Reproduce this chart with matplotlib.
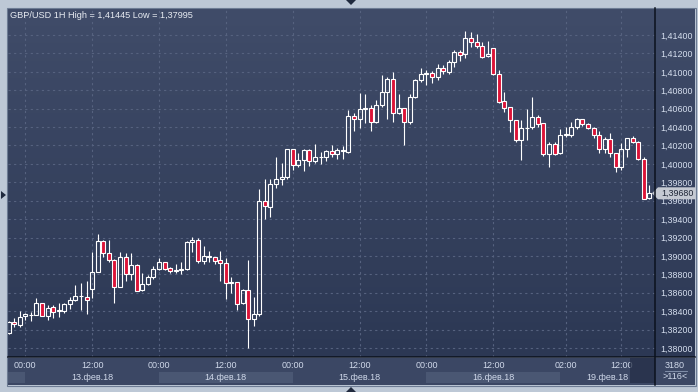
import numpy as np
import matplotlib
matplotlib.use("Agg")
import matplotlib.pyplot as plt
from matplotlib.patches import Rectangle, Polygon
from matplotlib.lines import Line2D
from matplotlib.colors import LinearSegmentedColormap

plt.rcParams['font.family'] = ['Liberation Sans', 'DejaVu Sans']

# GBP/USD 1H candles (116 bars)
opens = [1.38160, 1.38279, 1.38250, 1.38344, 1.38355, 1.38362, 1.38485, 1.38351, 1.38442, 1.38402,
         1.38405, 1.38475, 1.38518, 1.38560, 1.38551, 1.38638, 1.38829, 1.39159, 1.39029, 1.38953,
         1.38666, 1.38992, 1.38800, 1.38898, 1.38633, 1.38692, 1.38768, 1.38855, 1.38931, 1.38866,
         1.38836, 1.38847, 1.38855, 1.39148, 1.39170, 1.38942, 1.38992, 1.38985, 1.38953, 1.38920,
         1.38706, 1.38714, 1.38485, 1.38627, 1.38318, 1.38366, 1.39594, 1.39535, 1.39778, 1.39832,
         1.39854, 1.40158, 1.39985, 1.40039, 1.40148, 1.40028, 1.40071, 1.40078, 1.40137, 1.40104,
         1.40143, 1.40132, 1.40520, 1.40484, 1.40593, 1.40604, 1.40452, 1.40636, 1.40784, 1.40922,
         1.40549, 1.40604, 1.40452, 1.40723, 1.40911, 1.40976, 1.40984, 1.40941, 1.41038, 1.41001,
         1.41103, 1.41219, 1.41190, 1.41364, 1.41321, 1.41281, 1.41172, 1.41256, 1.40973, 1.40683,
         1.40615, 1.40477, 1.40259, 1.40387, 1.40397, 1.40512, 1.40441, 1.40104, 1.40213, 1.40115,
         1.40314, 1.40314, 1.40397, 1.40484, 1.40430, 1.40393, 1.40314, 1.40158, 1.40267, 1.40115,
         1.39969, 1.40158, 1.40278, 1.40241, 1.40050, 1.39633]
highs = [1.38293, 1.38323, 1.38402, 1.38383, 1.38391, 1.38543, 1.38490, 1.38467, 1.38467, 1.38485,
         1.38492, 1.38551, 1.38684, 1.38706, 1.38728, 1.39046, 1.39238, 1.39173, 1.39173, 1.38963,
         1.39043, 1.39032, 1.39032, 1.38909, 1.38811, 1.38790, 1.38894, 1.38974, 1.38937, 1.38877,
         1.38909, 1.38934, 1.39159, 1.39209, 1.39192, 1.39108, 1.39050, 1.38990, 1.39050, 1.38974,
         1.38774, 1.38720, 1.38638, 1.38956, 1.38551, 1.39727, 1.39832, 1.39832, 1.40071, 1.40006,
         1.40165, 1.40165, 1.40115, 1.40158, 1.40158, 1.40216, 1.40126, 1.40151, 1.40202, 1.40176,
         1.40194, 1.40582, 1.40549, 1.40767, 1.40756, 1.40640, 1.40691, 1.40966, 1.40941, 1.41001,
         1.40759, 1.40610, 1.40759, 1.40919, 1.41038, 1.41020, 1.41009, 1.41082, 1.41074, 1.41128,
         1.41237, 1.41237, 1.41445, 1.41436, 1.41411, 1.41327, 1.41335, 1.41262, 1.41020, 1.40781,
         1.40620, 1.40480, 1.40477, 1.40593, 1.40723, 1.40531, 1.40445, 1.40241, 1.40241, 1.40376,
         1.40397, 1.40458, 1.40495, 1.40490, 1.40441, 1.40404, 1.40357, 1.40295, 1.40339, 1.40120,
         1.40224, 1.40285, 1.40303, 1.40252, 1.40078, 1.39771]
lows = [1.38152, 1.38225, 1.38225, 1.38304, 1.38296, 1.38358, 1.38348, 1.38307, 1.38329, 1.38337,
        1.38377, 1.38420, 1.38514, 1.38413, 1.38373, 1.38546, 1.38822, 1.38985, 1.38937, 1.38492,
        1.38659, 1.38731, 1.38739, 1.38620, 1.38619, 1.38681, 1.38753, 1.38847, 1.38847, 1.38818,
        1.38818, 1.38804, 1.38847, 1.39043, 1.38920, 1.38916, 1.38931, 1.38916, 1.38728, 1.38535,
        1.38601, 1.38413, 1.38475, 1.37995, 1.38239, 1.38348, 1.39405, 1.39420, 1.39735, 1.39771,
        1.39839, 1.39934, 1.39969, 1.39926, 1.39977, 1.40013, 1.39995, 1.40034, 1.40078, 1.40053,
        1.40056, 1.40115, 1.40360, 1.40390, 1.40447, 1.40360, 1.40441, 1.40615, 1.40488, 1.40458,
        1.40542, 1.40205, 1.40430, 1.40712, 1.40886, 1.40857, 1.40882, 1.40911, 1.40973, 1.40973,
        1.41056, 1.41121, 1.41147, 1.41273, 1.41256, 1.41147, 1.41164, 1.40962, 1.40658, 1.40567,
        1.40350, 1.40241, 1.40042, 1.40259, 1.40376, 1.40404, 1.40086, 1.39963, 1.40097, 1.40104,
        1.40295, 1.40295, 1.40376, 1.40411, 1.40380, 1.40278, 1.40115, 1.40115, 1.40071, 1.39915,
        1.39934, 1.40071, 1.40224, 1.40042, 1.39615, 1.39615]
closes = [1.38279, 1.38257, 1.38333, 1.38373, 1.38362, 1.38485, 1.38351, 1.38431, 1.38388, 1.38413,
          1.38475, 1.38518, 1.38562, 1.38564, 1.38525, 1.38829, 1.39159, 1.39029, 1.38953, 1.38659,
          1.38992, 1.38800, 1.38898, 1.38622, 1.38692, 1.38768, 1.38855, 1.38931, 1.38855, 1.38833,
          1.38844, 1.38855, 1.39148, 1.39170, 1.38942, 1.38996, 1.38996, 1.38948, 1.38920, 1.38703,
          1.38714, 1.38475, 1.38627, 1.38318, 1.38366, 1.39600, 1.39542, 1.39778, 1.39832, 1.39854,
          1.40158, 1.39985, 1.40039, 1.40148, 1.40028, 1.40071, 1.40078, 1.40137, 1.40104, 1.40151,
          1.40151, 1.40520, 1.40484, 1.40593, 1.40604, 1.40452, 1.40636, 1.40784, 1.40922, 1.40549,
          1.40604, 1.40452, 1.40723, 1.40911, 1.40976, 1.40990, 1.40941, 1.41038, 1.41012, 1.41103,
          1.41212, 1.41183, 1.41364, 1.41321, 1.41281, 1.41158, 1.41190, 1.40973, 1.40669, 1.40604,
          1.40477, 1.40259, 1.40387, 1.40390, 1.40512, 1.40433, 1.40104, 1.40216, 1.40104, 1.40314,
          1.40321, 1.40397, 1.40488, 1.40430, 1.40387, 1.40314, 1.40158, 1.40267, 1.40115, 1.39963,
          1.40158, 1.40278, 1.40234, 1.40050, 1.39622, 1.39680]

# bottom scale
time_pos = [3, 15, 27, 39, 51, 63, 75, 87, 100, 110]
time_lbl = ["00:00", "12:00", "00:00", "12:00", "00:00", "12:00", "00:00", "12:00", "02:00", "12:00"]
day_start = [-0.5, 3, 27, 51, 75, 99]
day_lbl = ["", "13.фев.18", "14.фев.18", "15.фев.18", "16.фев.18", "19.фев.18"]
price_ticks = np.arange(1.380, 1.41401, 0.002)

W, H = 698, 392
fig = plt.figure(figsize=(W / 100, H / 100), dpi=100)
fig.patch.set_facecolor('#bdc8d6')


def rect(x0, y0, x1, y1):
    return [x0 / W, 1 - y1 / H, (x1 - x0) / W, (y1 - y0) / H]


def P(x, y):
    return (x / W, 1 - y / H)


# gradient behind plot + price scale
bg = fig.add_axes(rect(8, 8, 695, 357))
bg.axis('off')
cmap = LinearSegmentedColormap.from_list('bgc', ['#404c69', '#2c3854'])
bg.imshow(np.linspace(0, 1, 256).reshape(-1, 1), aspect='auto', cmap=cmap, extent=[0, 1, 0, 1])

XL = (-0.05, 116.08)
ax = fig.add_axes(rect(8.3, 8, 655.3, 356.7))
ax.set_facecolor('none')
ax.set_xlim(*XL)
ax.set_ylim(1.379055, 1.416933)
for s in ax.spines.values():
    s.set_visible(False)
ax.set_yticks(price_ticks)
ax.set_yticklabels([f"{v:.5f}".replace('.', ',') for v in price_ticks])
ax.yaxis.tick_right()
ax.tick_params(axis='y', length=0, pad=3.5, labelsize=6.4, labelcolor='#d6dfef')
ax.set_xticks(time_pos)
ax.tick_params(axis='x', length=0, labelbottom=False)
ax.grid(True, color='#56627f', linestyle=(0, (2, 3)), linewidth=0.8)
ax.set_axisbelow(True)

red = '#dc1438'
bw = 0.7
for i in range(len(opens)):
    o, h, l, c = opens[i], highs[i], lows[i], closes[i]
    top, bot = max(o, c), min(o, c)
    ax.vlines(i, top, h, color='white', lw=0.8)
    ax.vlines(i, l, bot, color='white', lw=0.8)
    face = red if c < o else 'none'
    ax.add_patch(Rectangle((i - bw / 2, bot), bw, max(top - bot, 0.00002),
                           facecolor=face, edgecolor='white', lw=0.8))

# time / date scale
axb = fig.add_axes(rect(8.3, 357.5, 655.3, 384.5))
axb.set_facecolor('#3b4764')
axb.set_xlim(*XL)
axb.set_ylim(0, 1)
axb.set_xticks([])
axb.set_yticks([])
for s in axb.spines.values():
    s.set_visible(False)
for k in range(len(day_start)):
    a = max(day_start[k], XL[0])
    b = day_start[k + 1] if k + 1 < len(day_start) else XL[1]
    if k % 2 == 0:
        axb.axvspan(a, b, ymin=0.044, ymax=0.48, color='#4a5773', lw=0)
    if day_lbl[k]:
        axb.text((a + b) / 2, 0.27, day_lbl[k], ha='center', va='center',
                 fontsize=6.5, color='#d0d9ea')
for p, t in zip(time_pos, time_lbl):
    axb.text(p, 0.70, t, ha='center', va='center', fontsize=6.5, color='#d0d9ea')
axb.axvspan(111.5, XL[1], ymin=0.05, ymax=0.98, color='#232d45', alpha=0.7, lw=0, zorder=5)

# bar counter box in the corner
axc = fig.add_axes(rect(655.3, 357.5, 695, 384.5))
axc.set_facecolor('#3b4764')
axc.set_xticks([])
axc.set_yticks([])
for s in axc.spines.values():
    s.set_visible(False)
axc.text(0.5, 0.70, "3180", ha='center', va='center', fontsize=6.5, color='#d0d9ea',
         transform=axc.transAxes)
axc.text(0.5, 0.28, ">116<", ha='center', va='center', fontsize=6.5, color='#d0d9ea',
         transform=axc.transAxes)
axc.add_line(Line2D([0.24, 0.80], [0.51, 0.51], color='#8d9bb5', lw=0.6, transform=axc.transAxes))

# separators and frame
fig.add_artist(Line2D([655.3 / W] * 2, [1 - 8 / H, 1 - 385 / H], color='#0b111d', lw=1.1))
fig.add_artist(Line2D([8 / W, 695 / W], [1 - 356.9 / H] * 2, color='#0b111d', lw=1.1))
fig.add_artist(Rectangle(P(7.5, 385.5), 688 / W, 378 / H, transform=fig.transFigure,
                         fill=False, edgecolor='#6d7c94', lw=0.8))

# last price tag
tag = [P(652, 193.3), P(658, 187.3), P(695.5, 187.3), P(695.5, 199.3), P(658, 199.3)]
fig.add_artist(Polygon(tag, closed=True, transform=fig.transFigure, facecolor='#c4c9d2',
                       edgecolor='none'))
fig.text(661 / W, 1 - 193.6 / H, "1,39680", va='center', ha='left', fontsize=6.4, color='#1c2434')

# small arrows on the frame
for pts in ([(346, 0), (356, 0), (351, 5)], [(346, 392), (356, 392), (351, 387)],
            [(1, 191), (1, 199), (6, 195)]):
    fig.add_artist(Polygon([P(x, y) for x, y in pts], closed=True, transform=fig.transFigure,
                           facecolor='#202a3e', edgecolor='none'))

fig.text(10 / W, 1 - 18.5 / H, "GBP/USD 1H High = 1,41445 Low = 1,37995", va='baseline',
         ha='left', fontsize=6.6, color='#e8ecf2')

fig.savefig('out.png', dpi=100, facecolor=fig.get_facecolor())
